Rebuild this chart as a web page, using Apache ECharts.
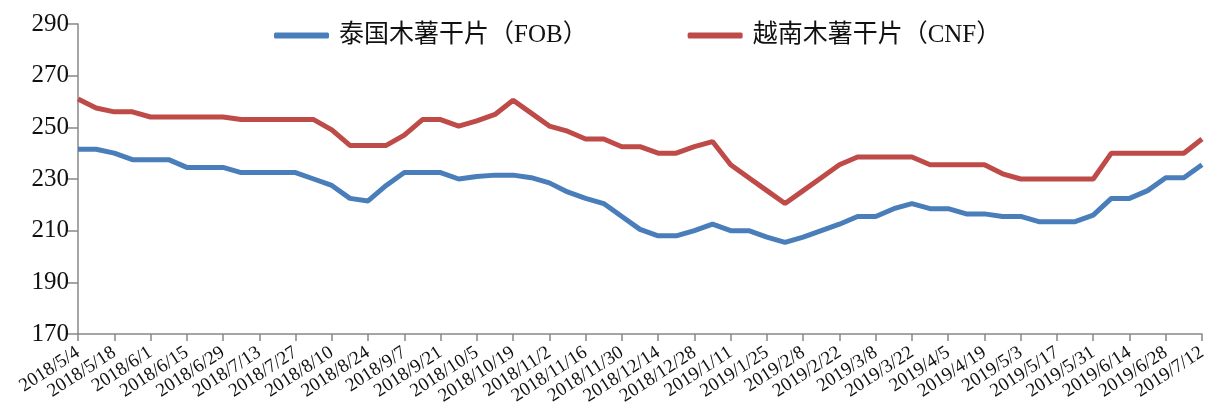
<!DOCTYPE html>
<html>
<head>
<meta charset="utf-8">
<title>木薯干片价格</title>
<script src="https://cdn.jsdelivr.net/npm/echarts@6/dist/echarts.min.js"></script>
<style>
	html, body { margin: 0; padding: 0; background: #fff; }
	#main { width: 1208px; height: 412px; }
</style>
</head>
<body>
<div id="main"></div>
<script>
// 日期（周）
var dates = [
	'2018/5/4', '2018/5/11', '2018/5/18', '2018/5/25', '2018/6/1', '2018/6/8', '2018/6/15', '2018/6/22', '2018/6/29',
	'2018/7/6', '2018/7/13', '2018/7/20', '2018/7/27', '2018/8/3', '2018/8/10', '2018/8/17', '2018/8/24', '2018/8/31',
	'2018/9/7', '2018/9/14', '2018/9/21', '2018/9/28', '2018/10/5', '2018/10/12', '2018/10/19', '2018/10/26',
	'2018/11/2', '2018/11/9', '2018/11/16', '2018/11/23', '2018/11/30', '2018/12/7', '2018/12/14', '2018/12/21',
	'2018/12/28', '2019/1/4', '2019/1/11', '2019/1/18', '2019/1/25', '2019/2/1', '2019/2/8', '2019/2/15', '2019/2/22',
	'2019/3/1', '2019/3/8', '2019/3/15', '2019/3/22', '2019/3/29', '2019/4/5', '2019/4/12', '2019/4/19', '2019/4/26',
	'2019/5/3', '2019/5/10', '2019/5/17', '2019/5/24', '2019/5/31', '2019/6/7', '2019/6/14', '2019/6/21', '2019/6/28',
	'2019/7/5', '2019/7/12'
];
// 泰国木薯干片（FOB）
var thaiFob = [
	241.5, 241.5, 240, 237.5, 237.5, 237.5, 234.5, 234.5, 234.5, 232.5, 232.5, 232.5, 232.5, 230, 227.5, 222.5,
	221.5, 227.5, 232.5, 232.5, 232.5, 230, 231, 231.5, 231.5, 230.5, 228.5, 225, 222.5, 220.5, 215.5, 210.5,
	208, 208, 210, 212.5, 210, 210, 207.5, 205.5, 207.5, 210, 212.5, 215.5, 215.5, 218.5, 220.5, 218.5,
	218.5, 216.5, 216.5, 215.5, 215.5, 213.5, 213.5, 213.5, 216, 222.5, 222.5, 225.5, 230.5, 230.5, 235.5
];
// 越南木薯干片（CNF）
var vietCnf = [
	261, 257.5, 256, 256, 254, 254, 254, 254, 254, 253, 253, 253, 253, 253, 249, 243,
	243, 243, 247, 253, 253, 250.5, 252.5, 255, 260.5, 255.5, 250.5, 248.5, 245.5, 245.5, 242.5, 242.5,
	240, 240, 242.5, 244.5, 235.5, 230.5, 225.5, 220.5, 225.5, 230.5, 235.5, 238.5, 238.5, 238.5, 238.5, 235.5,
	235.5, 235.5, 235.5, 232, 230, 230, 230, 230, 230, 240, 240, 240, 240, 240, 245.5
];
var seriesNames = ['泰国木薯干片（FOB）', '越南木薯干片（CNF）'];

var font = "'Liberation Serif', 'Noto Sans CJK SC', serif";

var option = {
	animation: false,
	textStyle: {
		fontFamily: font
	},
	legend: {
		left: 269,
		top: 18,
		icon: 'roundRect',
		itemWidth: 55,
		itemHeight: 6,
		itemGap: 100,
		textStyle: {
			fontFamily: font,
			fontSize: 25,
			color: '#111',
			padding: [0, 0, 0, 5]
		},
		data: seriesNames
	},
	grid: {
		left: 78,
		right: 6,
		top: 24,
		bottom: 78,
		outerBoundsMode: 'none'
	},
	xAxis: {
		type: 'category',
		boundaryGap: false,
		data: dates,
		axisLine: {
			lineStyle: { color: '#888', width: 1.5 }
		},
		axisTick: {
			interval: 1,
			length: 7,
			lineStyle: { color: '#888', width: 1.5 }
		},
		axisLabel: {
			interval: 1,
			rotate: 33,
			margin: 17,
			fontFamily: font,
			fontSize: 19,
			color: '#111'
		}
	},
	yAxis: {
		type: 'value',
		min: 170,
		max: 290,
		interval: 20,
		axisLine: {
			show: true,
			lineStyle: { color: '#888', width: 1.5 }
		},
		axisTick: {
			show: true,
			length: 11,
			lineStyle: { color: '#888', width: 1.5 }
		},
		splitLine: { show: false },
		axisLabel: {
			margin: 9,
			fontFamily: font,
			fontSize: 25,
			color: '#111'
		}
	},
	series: [{
		name: seriesNames[0],
		type: 'line',
		data: thaiFob,
		symbol: 'none',
		itemStyle: { color: '#4A7EBB' },
		lineStyle: { color: '#4A7EBB', width: 5 }
	}, {
		name: seriesNames[1],
		type: 'line',
		data: vietCnf,
		symbol: 'none',
		itemStyle: { color: '#BE4B48' },
		lineStyle: { color: '#BE4B48', width: 5 }
	}]
};
var myChart = echarts.init(document.getElementById('main'));
myChart.setOption(option);
</script>
</body>
</html>
